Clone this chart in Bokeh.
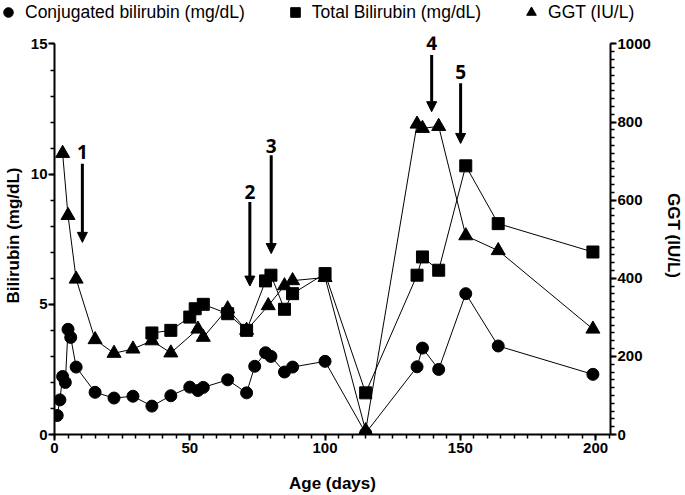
from bokeh.plotting import figure
from bokeh.layouts import column
from bokeh.models import (Range1d, LinearAxis, SingleIntervalTicker, Legend,
                          LegendItem, Arrow, NormalHead, Label)
from bokeh.embed import file_html
from bokeh.resources import INLINE

# ---- data ----
conj_age = [1, 2, 3, 4, 5, 6, 8, 15, 22, 29, 36, 43, 50, 53, 55, 64, 71,
            74, 78, 80, 85, 88, 100, 115, 134, 136, 142, 152, 164, 199]
conj_val = [0.73, 1.33, 2.23, 2.0, 4.04, 3.73, 2.59, 1.62, 1.40, 1.47, 1.09,
            1.49, 1.82, 1.69, 1.81, 2.10, 1.60, 2.62, 3.14, 3.00, 2.40, 2.59,
            2.81, 0.05, 2.60, 3.32, 2.50, 5.41, 3.40, 2.31]

total_age = [36, 43, 50, 52, 55, 64, 71, 78, 80, 85, 88, 100, 115, 134, 136,
             142, 152, 164, 199]
total_val = [3.90, 4.00, 4.51, 4.83, 5.00, 4.64, 4.00, 5.90, 6.12, 4.81, 5.41,
             6.18, 1.60, 6.12, 6.82, 6.31, 10.32, 8.10, 7.01]

ggt_age = [3, 5, 8, 15, 22, 29, 36, 43, 53, 55, 64, 71, 79, 85, 88, 100, 115,
           134, 136, 142, 152, 164, 199]
ggt_val = [720, 561, 398, 243, 208, 219, 240, 209, 270, 249, 322, 267, 330,
           381, 394, 402, 10, 795, 784, 789, 509, 471, 270]

series_names = ["Conjugated bilirubin (mg/dL)", "Total Bilirubin (mg/dL)",
                "GGT (IU/L)"]

arrow_labels = ["1", "2", "3", "4", "5"]
arrow_age = [10.3, 72.2, 80.1, 139.4, 150.1]
arrow_from = [10.4, 8.93, 10.73, 14.58, 13.49]
arrow_to = [7.38, 5.7, 6.95, 12.4, 11.18]
label_y = [10.85, 9.31, 11.07, 15.02, 13.93]

FONT = "Liberation Sans"

# the axes span 0-15 / 0-1000; the frame reaches a little higher so the
# "4" annotation is not clipped
Y_TOP = 15.288
GGT_TOP = 1019.2

# ---- main plot ----
p = figure(width=685, height=471, output_backend="svg", toolbar_location=None,
           x_range=Range1d(0, 205.5), y_range=Range1d(0, Y_TOP),
           min_border_left=54, min_border_right=75, min_border_top=12,
           min_border_bottom=61)
p.extra_y_ranges = {"ggt": Range1d(0, GGT_TOP)}
p.grid.visible = False
p.outline_line_color = None
p.background_fill_color = "white"


def style(ax, label_standoff, axis_standoff):
    ax.axis_line_width = 2
    ax.axis_line_color = "black"
    ax.major_tick_line_width = 2
    ax.major_tick_line_color = "black"
    ax.minor_tick_line_width = 1.5
    ax.minor_tick_line_color = "black"
    ax.major_tick_out = 6
    ax.major_tick_in = 0
    ax.minor_tick_out = 4
    ax.minor_tick_in = 0
    ax.major_label_text_font = FONT
    ax.major_label_text_font_style = "bold"
    ax.major_label_text_font_size = "15px"
    ax.major_label_text_color = "black"
    ax.major_label_standoff = label_standoff
    ax.axis_label_text_font = FONT
    ax.axis_label_text_font_style = "bold"
    ax.axis_label_text_font_size = "17px"
    ax.axis_label_text_color = "black"
    ax.axis_label_standoff = axis_standoff


xa = p.xaxis[0]
xa.ticker = SingleIntervalTicker(interval=50, num_minor_ticks=10)
xa.axis_label = "Age (days)"
style(xa, 2, 18)

ya = p.yaxis[0]
ya.ticker = SingleIntervalTicker(interval=5, num_minor_ticks=5)
ya.axis_label = "Bilirubin (mg/dL)"
ya.bounds = (0, 15)
style(ya, 1, 5)

ra = LinearAxis(y_range_name="ggt",
                ticker=SingleIntervalTicker(interval=200, num_minor_ticks=10),
                axis_label="GGT (IU/L)", bounds=(0, 1000))
style(ra, 1, 10)
p.add_layout(ra, "right")

# ---- series ----
p.line(ggt_age, ggt_val, y_range_name="ggt", line_color="black", line_width=1)
p.scatter(ggt_age, ggt_val, y_range_name="ggt", marker="triangle",
          size=14, color="black")
p.line(total_age, total_val, line_color="black", line_width=1)
p.scatter(total_age, total_val, marker="square", size=12, color="black")
p.line(conj_age, conj_val, line_color="black", line_width=1)
p.scatter(conj_age, conj_val, marker="circle", size=12, color="black")

# ---- arrows and labels ----
for i in range(len(arrow_labels)):
    p.add_layout(Arrow(end=NormalHead(size=10, fill_color="black",
                                      line_color="black", line_width=1),
                       x_start=arrow_age[i], y_start=arrow_from[i],
                       x_end=arrow_age[i], y_end=arrow_to[i],
                       line_width=3, line_color="black"))
    p.add_layout(Label(x=arrow_age[i], y=label_y[i], text=arrow_labels[i],
                       text_align="center", text_baseline="alphabetic",
                       text_font="Open Sans", text_font_style="bold",
                       text_font_size="19px", text_color="black"))

# ---- legend strip on top (its glyphs sit outside its visible range) ----
lf = figure(width=685, height=24, output_backend="svg", toolbar_location=None,
            x_range=Range1d(1000, 1001), y_range=Range1d(1000, 1001),
            min_border=0, x_axis_location=None, y_axis_location=None)
lf.frame_align = False
lf.grid.visible = False
lf.outline_line_color = None
lr1 = lf.scatter(conj_age, conj_val, marker="circle", color="black")
lr2 = lf.scatter(total_age, total_val, marker="square", color="black")
lr3 = lf.scatter(ggt_age, ggt_val, marker="triangle", color="black")
legend = Legend(items=[
    LegendItem(label=series_names[0], renderers=[lr1]),
    LegendItem(label=series_names[1], renderers=[lr2]),
    LegendItem(label=series_names[2], renderers=[lr3]),
], orientation="horizontal", location=(-4, 0), glyph_width=24,
    glyph_height=24, label_standoff=5, spacing=38, padding=0, margin=0,
    border_line_color=None, background_fill_alpha=0,
    label_text_font=FONT, label_text_font_size="17.5px",
    label_text_color="black")
lf.add_layout(legend)

layout = column(lf, p, spacing=0)
open("out.html", "w").write(file_html(layout, INLINE))
